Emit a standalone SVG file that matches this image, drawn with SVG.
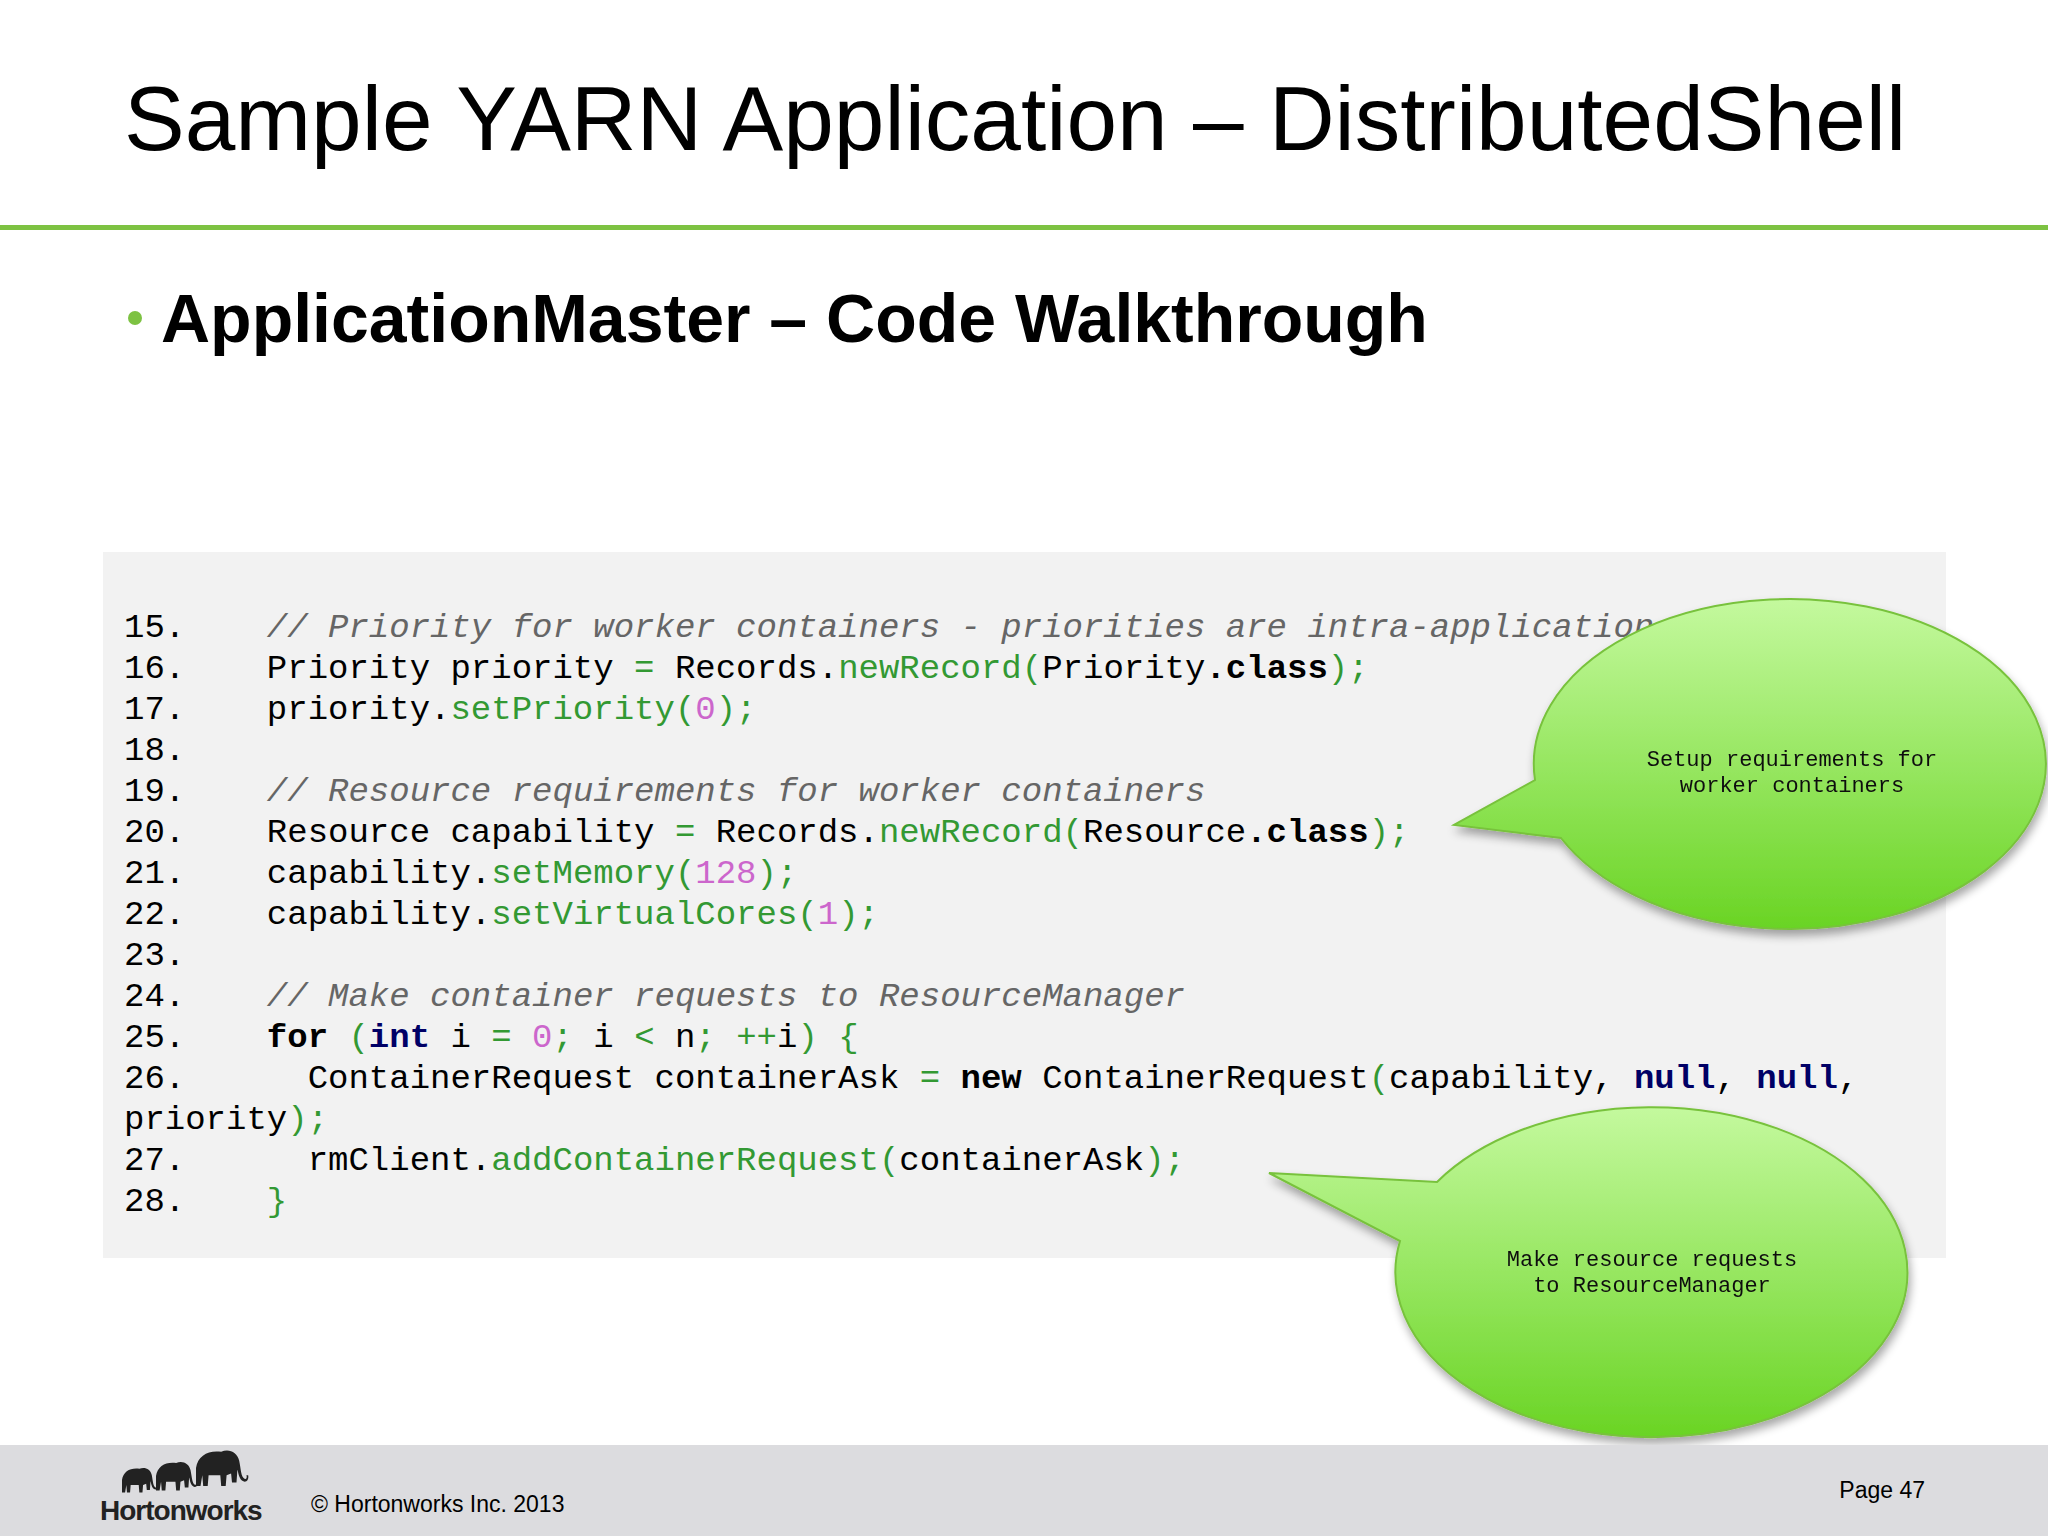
<svg xmlns="http://www.w3.org/2000/svg" width="2048" height="1536" viewBox="0 0 2048 1536">
<style>
.code{font-family:"Liberation Mono","Courier New",monospace;font-size:34px;fill:#000;white-space:pre}
.g{fill:#339933}.n{fill:#cc66cc}.c{fill:#666;font-style:italic}.b{font-weight:bold}.k{font-weight:bold;fill:#000066}
.bt{font-family:"Liberation Mono",monospace;font-size:22px;fill:#111;text-anchor:middle}
.bub{fill:url(#gg);stroke:#78c23c;stroke-width:2}
</style>
<defs>
<linearGradient id="gg" x1="0" y1="0" x2="0" y2="1"><stop offset="0" stop-color="#c4f99e"/><stop offset="1" stop-color="#6ad424"/></linearGradient>
<filter id="sh" x="-10%" y="-10%" width="130%" height="130%"><feGaussianBlur in="SourceAlpha" stdDeviation="5"/><feOffset dx="2" dy="6"/><feComponentTransfer><feFuncA type="linear" slope="0.35"/></feComponentTransfer><feMerge><feMergeNode/><feMergeNode in="SourceGraphic"/></feMerge></filter>
<path id="eleph" d="M0,0 C2,-14 14,-20 28,-18 C36,-22 46,-18 48,-8 C50,2 50,10 54,12 C56,13 57,10 56,8 L58,8 C59,14 55,17 51,14 C47,10 47,4 46,2 L45,16 L40,16 L39,6 L34,8 L33,20 L28,20 L27,8 L14,8 L13,20 L8,20 L7,8 L5,20 L0,20 Z"/>
</defs>
<rect width="2048" height="1536" fill="#fff"/>
<text x="124" y="150" font-family="Liberation Sans,Arial,sans-serif" font-size="91" fill="#000">Sample YARN Application – DistributedShell</text>
<rect x="0" y="225" width="2048" height="5" fill="#7dc242"/>
<circle cx="135" cy="318" r="7" fill="#7dc242"/>
<text x="161" y="342" font-family="Liberation Sans,Arial,sans-serif" font-size="68" font-weight="bold" fill="#000">ApplicationMaster – Code Walkthrough</text>
<rect id="codebox" x="103" y="552" width="1843" height="706" fill="#f2f2f2"/>
<g id="code" class="code">
<text x="124" y="637">15.&#160;&#160;&#160;&#160;<tspan class="c">// Priority for worker containers - priorities are intra-application</tspan></text>
<text x="124" y="678">16.&#160;&#160;&#160;&#160;Priority priority <tspan class="g">=</tspan> Records.<tspan class="g">newRecord(</tspan>Priority<tspan class="b">.class</tspan><tspan class="g">);</tspan></text>
<text x="124" y="719">17.&#160;&#160;&#160;&#160;priority.<tspan class="g">setPriority(</tspan><tspan class="n">0</tspan><tspan class="g">);</tspan></text>
<text x="124" y="760">18.</text>
<text x="124" y="801">19.&#160;&#160;&#160;&#160;<tspan class="c">// Resource requirements for worker containers</tspan></text>
<text x="124" y="842">20.&#160;&#160;&#160;&#160;Resource capability <tspan class="g">=</tspan> Records.<tspan class="g">newRecord(</tspan>Resource<tspan class="b">.class</tspan><tspan class="g">);</tspan></text>
<text x="124" y="883">21.&#160;&#160;&#160;&#160;capability.<tspan class="g">setMemory(</tspan><tspan class="n">128</tspan><tspan class="g">);</tspan></text>
<text x="124" y="924">22.&#160;&#160;&#160;&#160;capability.<tspan class="g">setVirtualCores(</tspan><tspan class="n">1</tspan><tspan class="g">);</tspan></text>
<text x="124" y="965">23.</text>
<text x="124" y="1006">24.&#160;&#160;&#160;&#160;<tspan class="c">// Make container requests to ResourceManager</tspan></text>
<text x="124" y="1047">25.&#160;&#160;&#160;&#160;<tspan class="b">for</tspan> <tspan class="g">(</tspan><tspan class="k">int</tspan> i <tspan class="g">=</tspan> <tspan class="n">0</tspan><tspan class="g">;</tspan> i <tspan class="g">&lt;</tspan> n<tspan class="g">;</tspan> <tspan class="g">++</tspan>i<tspan class="g">)</tspan> <tspan class="g">{</tspan></text>
<text x="124" y="1088">26.&#160;&#160;&#160;&#160;&#160;&#160;ContainerRequest containerAsk <tspan class="g">=</tspan> <tspan class="b">new</tspan> ContainerRequest<tspan class="g">(</tspan>capability, <tspan class="k">null</tspan>, <tspan class="k">null</tspan>,</text>
<text x="124" y="1129">priority<tspan class="g">);</tspan></text>
<text x="124" y="1170">27.&#160;&#160;&#160;&#160;&#160;&#160;rmClient.<tspan class="g">addContainerRequest(</tspan>containerAsk<tspan class="g">);</tspan></text>
<text x="124" y="1211">28.&#160;&#160;&#160;&#160;<tspan class="g">}</tspan></text>
</g>
<g id="bubble1" filter="url(#sh)">
<path class="bub" d="M1535,780 A256,165 0 1 1 1561,838 L1454,825 Z"/>
<text class="bt" x="1792" y="766">Setup requirements for</text>
<text class="bt" x="1792" y="792">worker containers</text>
</g>
<g id="bubble2" filter="url(#sh)">
<path class="bub" d="M1437,1182 A256,165 0 1 1 1400,1241 L1269,1173 Z"/>
<text class="bt" x="1652" y="1266">Make resource requests</text>
<text class="bt" x="1652" y="1292">to ResourceManager</text>
</g>
<g id="footer">
<rect x="0" y="1445" width="2048" height="91" fill="#dcdcdf"/>
<g fill="#222">
<use href="#eleph" transform="translate(122,1480) scale(0.62)"/>
<use href="#eleph" transform="translate(156,1476) scale(0.72)"/>
<use href="#eleph" transform="translate(196,1468) scale(0.9)"/>
</g>
<text x="100" y="1520" font-family="Liberation Sans,Arial,sans-serif" font-size="28" font-weight="bold" fill="#222" letter-spacing="-1">Hortonworks</text>
<text x="311" y="1512" font-family="Liberation Sans,Arial,sans-serif" font-size="23" fill="#000">© Hortonworks Inc. 2013</text>
<text x="1925" y="1498" text-anchor="end" font-family="Liberation Sans,Arial,sans-serif" font-size="23" fill="#000">Page 47</text>
</g>
</svg>
